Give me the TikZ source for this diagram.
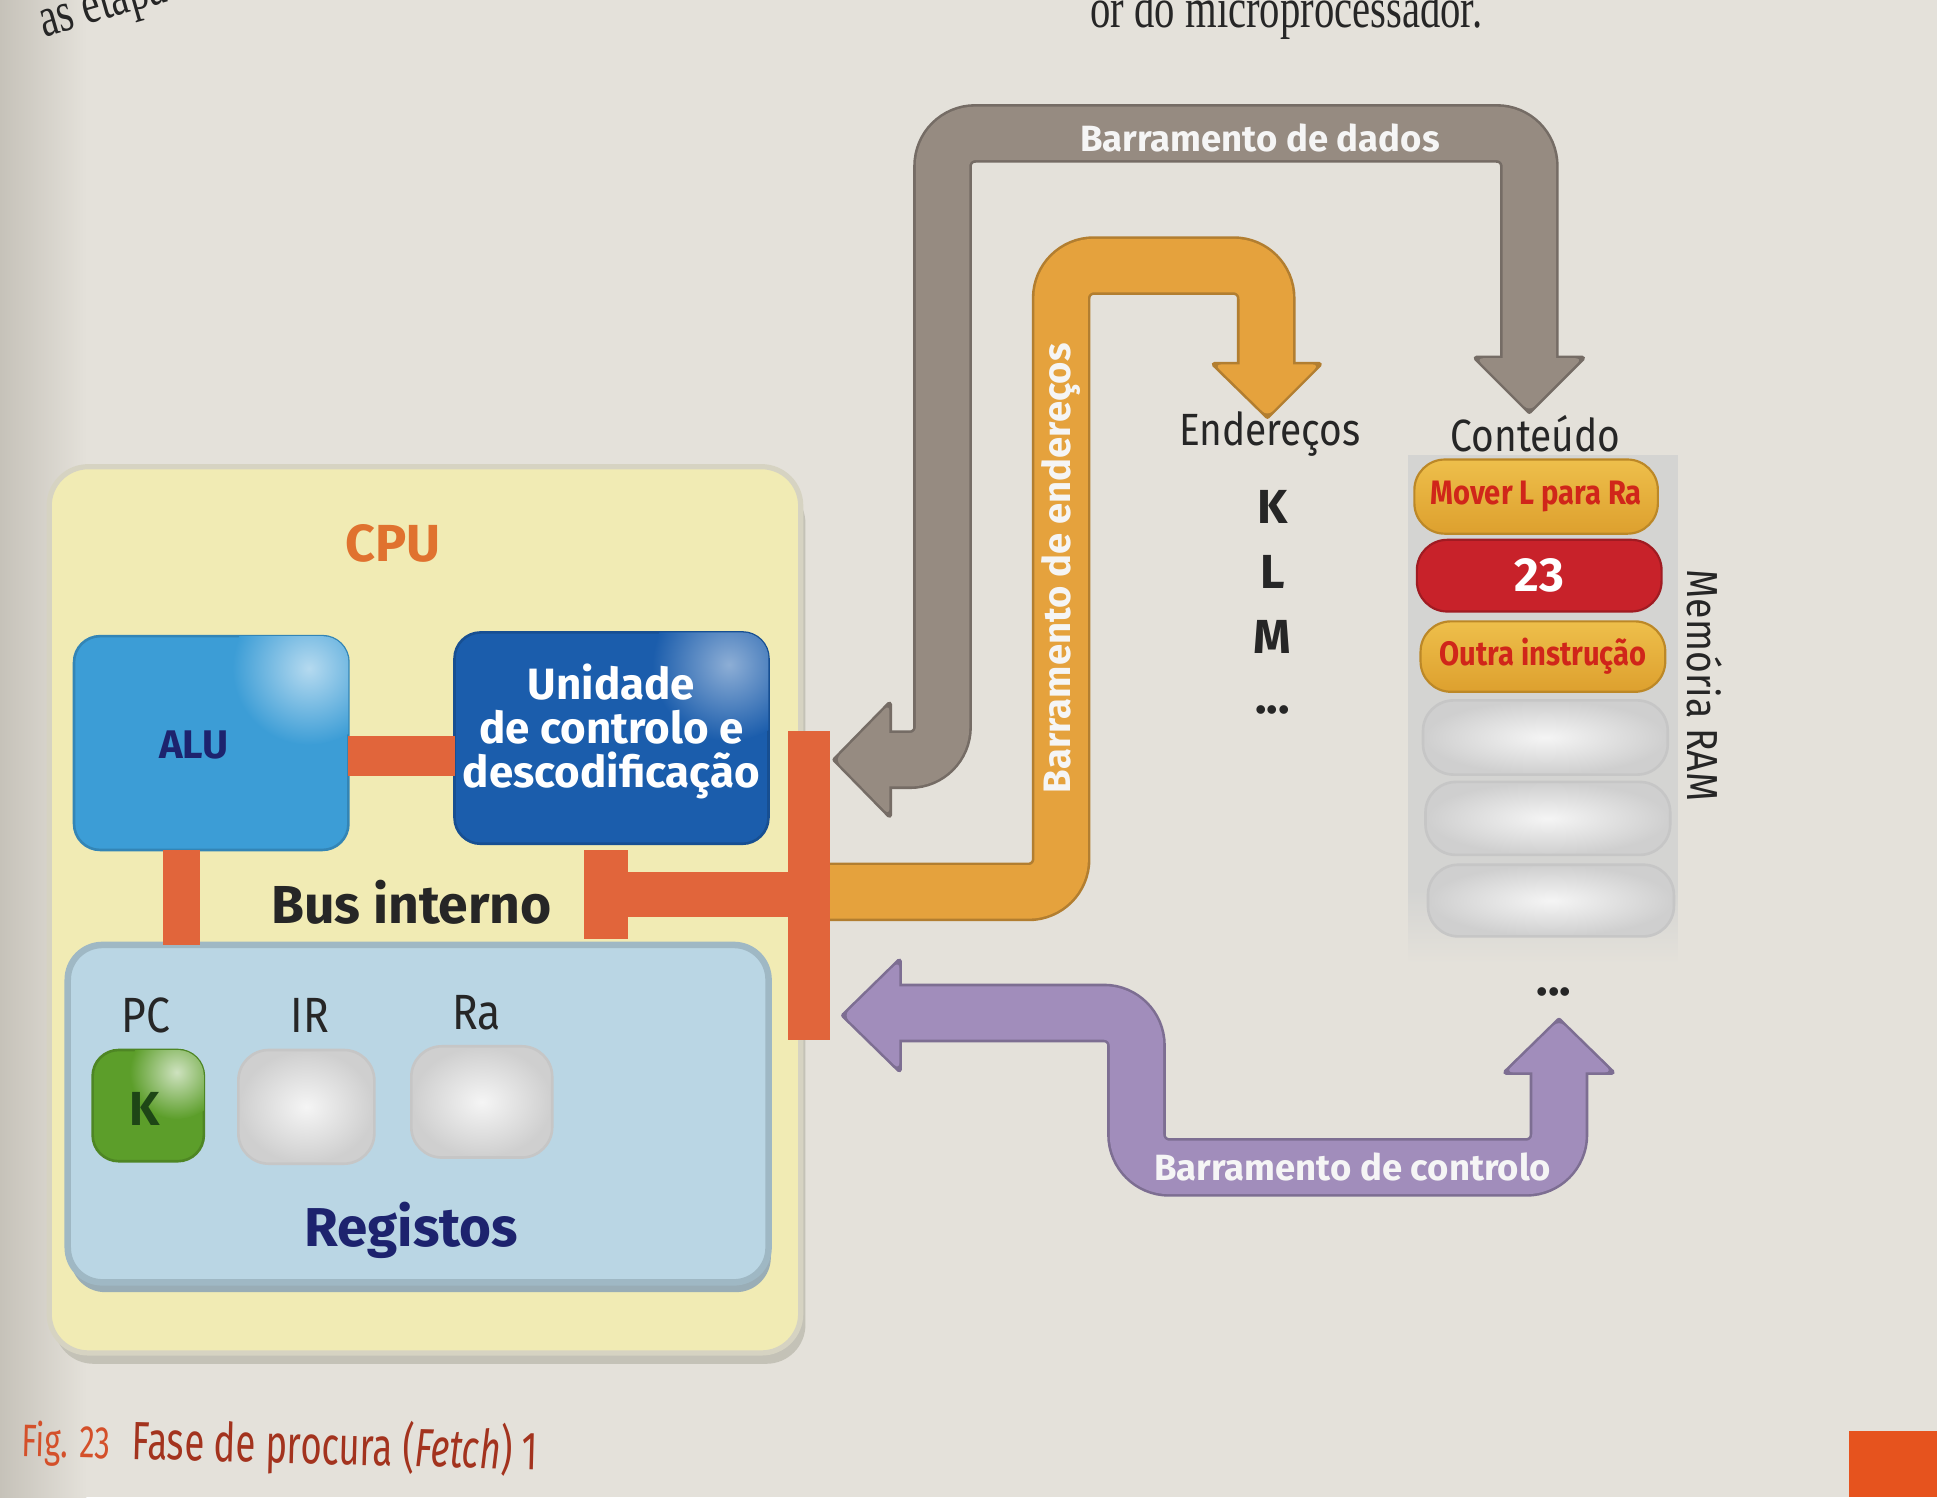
\documentclass[tikz,border=0pt]{standalone}
\usepackage{fontspec}
\setmainfont{Fira Sans}
\newfontfamily\narrowsans[FakeStretch=0.86]{Fira Sans}
\newfontfamily\captionsans[FakeStretch=0.68]{Fira Sans}
\newfontfamily\bookserif[FakeStretch=0.72]{Liberation Serif}
\usetikzlibrary{calc}

\definecolor{paper}{HTML}{E4E1DA}
\definecolor{paperedge}{HTML}{C6C2B9}
\definecolor{cpuyellow}{HTML}{F1EBB4}
\definecolor{cpurim}{HTML}{D6D3C2}
\definecolor{cpushadow}{HTML}{C4C2B7}
\definecolor{busred}{HTML}{E1653B}
\definecolor{alublue}{HTML}{3C9DD6}
\definecolor{cublue}{HTML}{1B5DAC}
\definecolor{regblue}{HTML}{BAD6E4}
\definecolor{regrim}{HTML}{9FB8C4}
\definecolor{navy}{HTML}{1D236E}
\definecolor{pcgreen}{HTML}{5C9E2A}
\definecolor{kgreen}{HTML}{1E4616}
\definecolor{cpuorange}{HTML}{E0722F}
\definecolor{databus}{HTML}{968B81}
\definecolor{addrbus}{HTML}{E5A23D}
\definecolor{ctrlbus}{HTML}{A18DBB}
\definecolor{goldtop}{HTML}{EEBF4B}
\definecolor{goldbottom}{HTML}{DDA02E}
\definecolor{cellred}{HTML}{C8222A}
\definecolor{celltext}{HTML}{D0261A}
\definecolor{ramgrey}{HTML}{D4D4D2}
\definecolor{captionred}{HTML}{A3331E}
\definecolor{figorange}{HTML}{D4502A}
\definecolor{tabbar}{HTML}{E6531E}
\definecolor{inkgrey}{HTML}{262626}

% one bus: dark rim first, then the coloured band and its heads
\newcommand\drawbus[3]{%
  \filldraw[#1!78!black, line width=1.2pt, line join=round] #3;
  \draw[#1!78!black, band, line width=13.5pt] #2;
  \fill[#1, head] #3;
  \draw[#1, band] #2;
}

\begin{document}
\begin{tikzpicture}[x=0.01cm, y=-0.01cm,
  every node/.style={inner sep=0pt, outer sep=0pt},
  band/.style={line width=12.3pt, rounded corners=7.5pt},
  head/.style={rounded corners=1.6pt},
  buslabel/.style={text=white!96!black, font=\bfseries\fontsize{#1}{#1}\selectfont},
  link/.style={busred, line width=9.4pt},
  glossy/.style={rounded corners=6pt, fill=#1, draw=#1!85!black, line width=0.6pt},
  emptycell/.style={rounded corners=7pt, inner color=white!92!gray, outer color=gray!38!white, draw=gray!45!white, line width=0.6pt},
  goldcell/.style={rounded corners=7pt, top color=goldtop, bottom color=goldbottom, draw=goldbottom!85!black, line width=0.5pt,
    text=celltext, font=\narrowsans\bfseries\fontsize{7.8}{7.8}\selectfont},
  plainlabel/.style={font=\narrowsans\fontsize{#1}{#1}\selectfont, text=inkgrey},
]
\useasboundingbox (0,0) rectangle (1568,1212);
\clip (0,0) rectangle (1568,1212);

% paper
\fill[paper] (0,0) rectangle (1568,1212);
\shade[left color=paperedge, right color=paper] (0,0) rectangle (70,1212);

% running text of the page
\node[anchor=base east, font=\bookserif\fontsize{13}{13}\selectfont, text=inkgrey] (pagetext) at (1200,22) {or do microprocessador.};
\node[anchor=base west, rotate=16, font=\bookserif\fontsize{13}{13}\selectfont, text=inkgrey] (pagetextleft) at (36,30) {as etapas};

% CPU block
\fill[cpushadow, rounded corners=9pt] (44,392) rectangle (652,1104);
\node[fill=cpuyellow, draw=cpurim, line width=1.2pt, rounded corners=9pt,
      minimum width=6.08cm, minimum height=7.17cm] (cpu) at (344,736.5) {};
\node[font=\bfseries\fontsize{12}{12}\selectfont, text=cpuorange] (cpulabel) at (318,440) {CPU};

% internal bus pieces
\node[glossy=alublue, minimum width=2.22cm, minimum height=1.73cm] (alu) at (171,601.5) {};
\node[glossy=cublue, minimum width=2.54cm, minimum height=1.71cm] (cu) at (495,597.5) {};
\node[fill=busred, minimum width=0.34cm, minimum height=2.50cm] (tbar) at (655,717) {};
\node[fill=busred, minimum width=0.35cm, minimum height=0.72cm] (tstub) at (490.5,724) {};
\draw[link, line width=10.2pt] (tstub.center) -- (tstub.center -| tbar.center);
\draw[link] (alu.east |- 0,612) -- (cu.west |- 0,612);

% registers
\fill[regrim!80!gray, rounded corners=8pt] (57,772) rectangle (624,1046);
\node[fill=regblue, draw=regrim, line width=1.5pt, rounded corners=8pt,
      minimum width=5.67cm, minimum height=2.73cm] (regs) at (338.5,901.5) {};
\draw[link, line width=8.5pt] (alu.south -| 147,0) -- (regs.north -| 147,0);

% glossy highlights
\begin{scope}
  \clip[rounded corners=6pt] (alu.south west) rectangle (alu.north east);
  \shade[inner color=white!62!alublue, outer color=alublue] ($(alu.north east)+(-32,26)$) circle (62);
\end{scope}
\begin{scope}
  \clip[rounded corners=6pt] (cu.south west) rectangle (cu.north east);
  \shade[inner color=white!50!cublue, outer color=cublue] ($(cu.north east)+(-32,26)$) circle (62);
\end{scope}

\node[glossy=pcgreen, minimum width=0.90cm, minimum height=0.90cm] (pc) at (120,895) {};
\begin{scope}
  \clip[rounded corners=6pt] (pc.south west) rectangle (pc.north east);
  \shade[inner color=white!70!pcgreen, outer color=pcgreen] ($(pc.north east)+(-22,18)$) circle (38);
\end{scope}
\node[emptycell, minimum width=1.10cm, minimum height=0.92cm] (ir) at (248,896) {};
\node[emptycell, minimum width=1.14cm, minimum height=0.90cm] (ra) at (390,892) {};

% CPU texts
\node[font=\bfseries\fontsize{9.2}{9.2}\selectfont, text=navy] (alulabel) at (157,603) {ALU};
\node[align=center, font=\bfseries\fontsize{10.1}{10.2}\selectfont, text=white] (culabel) at (495,592)
  {Unidade\\de controlo e\\descodificação};
\node[font=\bfseries\fontsize{12.3}{12.3}\selectfont, text=inkgrey] (buslabel) at (333,730) {Bus interno};
\node[plainlabel=11.4] (pclabel) at (118,822) {PC};
\node[plainlabel=11.4] (irlabel) at (251,822) {IR};
\node[plainlabel=11.4] (ralabel) at (386,820) {Ra};
\node[font=\bfseries\fontsize{11}{11}\selectfont, text=kgreen] (pcvalue) at (117,898) {K};
\node[font=\bfseries\fontsize{12.6}{12.6}\selectfont, text=navy] (regslabel) at (333,996) {Registos};

% memory
\node[fill=ramgrey, minimum width=2.18cm, minimum height=3.52cm, anchor=north west] (ram) at (1140,368) {};
\shade[top color=ramgrey, bottom color=paper] (ram.south west) rectangle ($(ram.south east)+(0,60)$);
\node[goldcell, minimum width=1.97cm, minimum height=0.60cm] (m1) at (1243.5,402) {Mover L para Ra};
\node[rounded corners=7pt, fill=cellred, draw=cellred!80!black, line width=0.5pt,
      text=white, font=\bfseries\fontsize{11}{11}\selectfont,
      minimum width=1.98cm, minimum height=0.58cm] (m2) at (1246,466) {23};
\node[goldcell, minimum width=1.98cm, minimum height=0.57cm] (m3) at (1249,531.5) {Outra instrução};
\node[emptycell, minimum width=1.98cm, minimum height=0.60cm] (m4) at (1251,597) {};
\node[emptycell, minimum width=1.98cm, minimum height=0.59cm] (m5) at (1253,662.5) {};
\node[emptycell, minimum width=1.99cm, minimum height=0.58cm] (m6) at (1255.5,729) {};

\node[plainlabel=10.4] (addrhead) at (1028,351) {Endereços};
\node[plainlabel=10.4] (conthead) at (1243,351) {Conteúdo};
\node[font=\bfseries\fontsize{11}{11}\selectfont, text=inkgrey] (addrK) at (1030,410) {K};
\node[font=\bfseries\fontsize{11}{11}\selectfont, text=inkgrey] (addrL) at (1030,463) {L};
\node[font=\bfseries\fontsize{11}{11}\selectfont, text=inkgrey] (addrM) at (1030,516) {M};
\node[font=\bfseries\fontsize{11}{11}\selectfont, text=inkgrey] (addrdots) at (1030,575) {...};
\node[font=\bfseries\fontsize{11}{11}\selectfont, text=inkgrey] (ramdots) at (1258,803) {...};
\node[plainlabel=10, rotate=-90] (ramlabel) at (1380,555) {Memória RAM};

% bus ends
\coordinate (dataL) at (676,615);
\coordinate (dataR) at (1238,333);
\coordinate (addrS) at (tbar.east |- 0,722);
\coordinate (addrE) at (1026,337);
\coordinate (ctrlL) at (683,822);
\coordinate (ctrlR) at (1262,826);

% data bus
\drawbus{databus}
  {(717,615) -- (763,615) -- (763,108) -- (1238,108) -- (1238,294)}
  {(dataL) -- (720,570) -- (720,660) -- cycle (1195,290) -- (1281,290) -- (dataR) -- cycle}
\node[buslabel=8.4] (datalabel) at (1020,112) {Barramento de dados};

% address bus
\drawbus{addrbus}
  {(addrS) -- (859,722) -- (859,215) -- (1025,215) -- (1025,298)}
  {(983,295) -- (1068,295) -- (addrE) -- cycle}
\node[buslabel=8.8, rotate=90] (addrlabel) at (859,460) {Barramento de endereços};
\node[fill=busred, minimum width=0.34cm, minimum height=2.50cm] at (tbar) {};

% control bus
\drawbus{ctrlbus}
  {(726,820) -- (920,820) -- (920,945) -- (1262,945) -- (1262,866)}
  {(ctrlL) -- (728,778) -- (728,866) -- cycle (1219,868) -- (1305,868) -- (ctrlR) -- cycle}
\node[buslabel=8.4] (ctrllabel) at (1095,945) {Barramento de controlo};

% caption
\node[anchor=west, rotate=-1.5, font=\captionsans] (caption) at (18,1165)
  {{\color{figorange}\fontsize{10.5}{10.5}\selectfont Fig. 23}\hspace{5pt}{\color{captionred}\fontsize{12.4}{12.4}\selectfont Fase de procura (\textit{Fetch}) 1}};

% page tab
\fill[tabbar] (1497,1158) rectangle (1568,1212);
\end{tikzpicture}
\end{document}
